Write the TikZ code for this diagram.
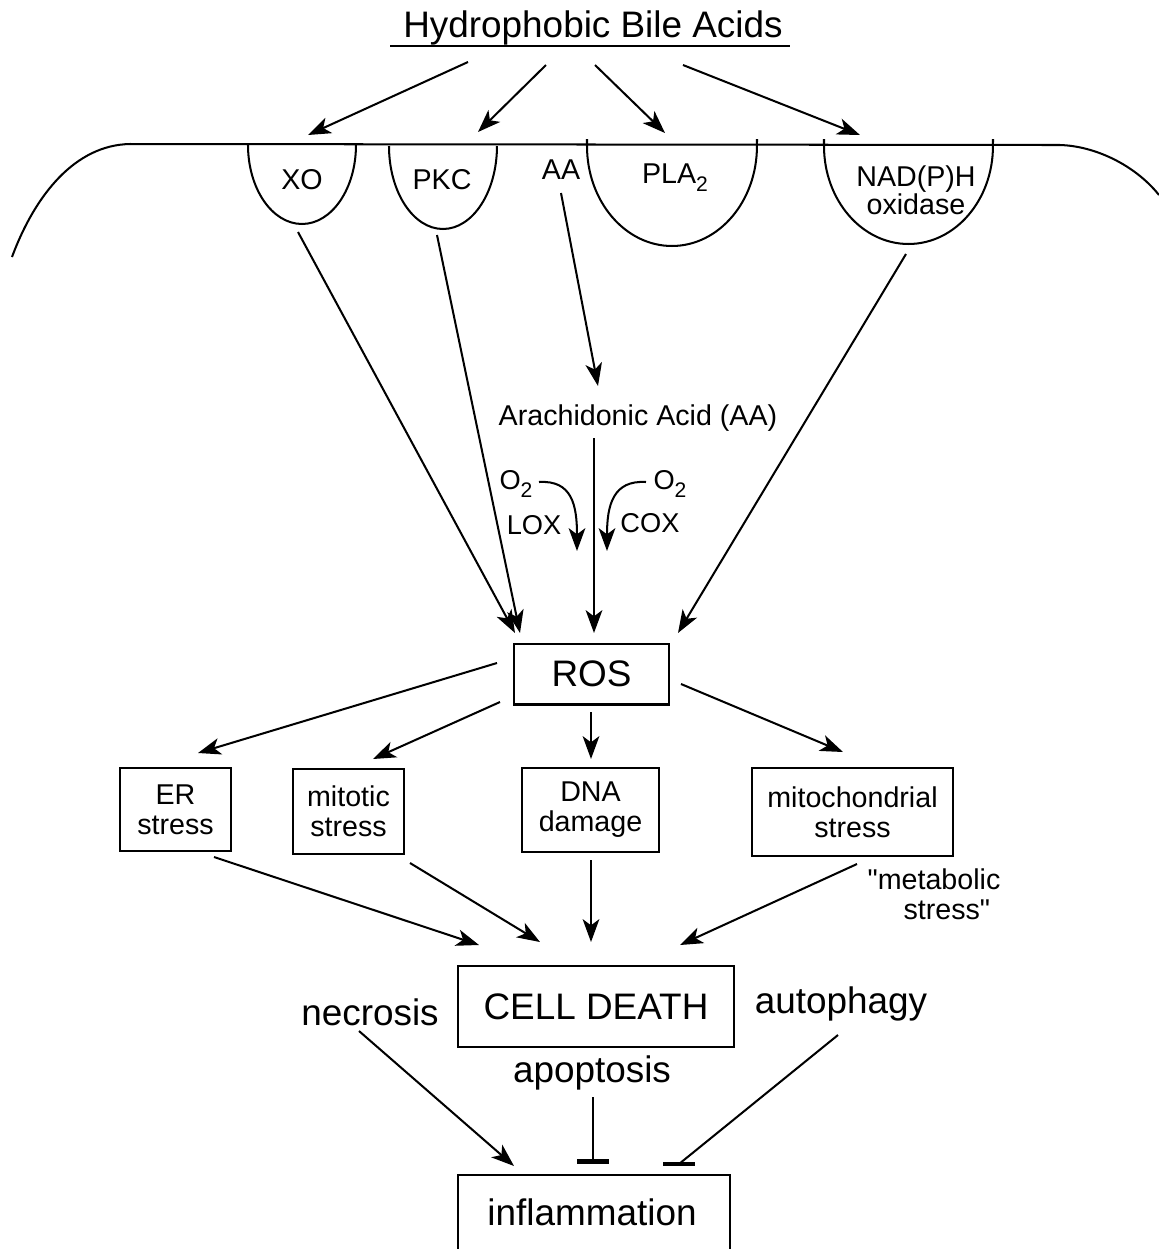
\documentclass[tikz,border=0pt]{standalone}
\usepackage{fontspec}
\setmainfont{Liberation Sans}
\usetikzlibrary{arrows.meta}
\newcommand{\sq}{\XeTeXglyph\XeTeXcharglyph"22\relax}
\newcommand{\subtwo}{\raisebox{-4.5pt}{\fontsize{12}{12}\selectfont 2}}
\begin{document}
\begin{tikzpicture}[x=0.02cm,y=-0.02cm,
  line width=1.15pt, line cap=butt,
  arr/.style={-{Stealth[length=13pt,width=9.5pt,inset=3.5pt]}},
  inh/.style={-{Bar[width=18pt,line width=2.6pt]}},
  box/.style={draw, line width=1.15pt, inner sep=0pt, align=center},
  big/.style={font=\fontsize{21}{24}\selectfont, inner sep=0pt},
  small/.style={font=\fontsize{16.3}{17}\selectfont, inner sep=0pt, align=center},
  tiny/.style={font=\fontsize{15.5}{17}\selectfont, inner sep=0pt},
]
\useasboundingbox (0,0) rectangle (1159,1249);

% title
\node[big] (title) at (593,28) {Hydrophobic Bile Acids};
\coordinate (ul1) at (390,46);
\coordinate (ul2) at (790,46);
\draw (ul1) -- (ul2);

% membrane
\draw (12,257) .. controls (35,195) and (75,145) .. (130,144) -- (1060,145)
      .. controls (1095,146) and (1135,165) .. (1159,195);

% membrane proteins
\draw (248,145) arc[start angle=180, end angle=360, x radius=1.08cm, y radius=1.58cm];
\draw (389,146) arc[start angle=180, end angle=360, x radius=1.08cm, y radius=1.66cm];
\draw (587,139) -- (587,146) arc[start angle=180, end angle=360, x radius=1.70cm, y radius=2.0cm] -- (757,139);
\draw (824,139) -- (824,146) arc[start angle=180, end angle=360, x radius=1.69cm, y radius=1.96cm] -- (993,139);

\node[small] (xo) at (302,180) {XO};
\node[small] (pkc) at (442,180) {PKC};
\node[small] (aa) at (561,170) {AA};
\node[small] (pla) at (675,178) {PLA\subtwo};
\node[small, font=\fontsize{16.3}{16}\selectfont] (nad) at (916,190) {NAD(P)H\\oxidase};

% arrows from bile acids
\coordinate (t1) at (468,62);  \coordinate (h1) at (308,135);
\coordinate (t2) at (546,65);  \coordinate (h2) at (478,132);
\coordinate (t3) at (595,65);  \coordinate (h3) at (665,133);
\coordinate (t4) at (683,65);  \coordinate (h4) at (860,135);
\draw[arr] (t1) -- (h1);
\draw[arr] (t2) -- (h2);
\draw[arr] (t3) -- (h3);
\draw[arr] (t4) -- (h4);

% arachidonic acid
\node[small] (ara) at (638,418) {Arachidonic Acid (AA)};
\coordinate (aas) at (561,193);
\coordinate (aae) at (598,386);
\draw[arr] (aas) -- (aae);

% ROS
\node[box, big, minimum width=3.1cm, minimum height=1.22cm] (ros) at (591.5,674) {ROS};

\coordinate (xos) at (298,232);  \coordinate (xoe) at (515,633);
\coordinate (pks) at (437,235);  \coordinate (pke) at (520,633);
\coordinate (ars) at (594,438);  \coordinate (are) at (594,633);
\coordinate (nas) at (906,254);  \coordinate (nae) at (678,633);
\draw[arr] (xos) -- (xoe);
\draw[arr] (pks) -- (pke);
\draw[arr] (ars) -- (are);
\draw[arr] (nas) -- (nae);

% LOX / COX
\node[tiny] (o2l) at (516,484) {O\subtwo};
\node[tiny] (lox) at (534,525) {LOX};
\node[tiny] (o2r) at (670,484) {O\subtwo};
\node[tiny] (cox) at (650,523) {COX};
\coordinate (ls) at (539,482); \coordinate (le) at (577,551);
\coordinate (rs) at (646,482); \coordinate (re) at (607,551);
\draw[arr] (ls) .. controls (572,480) and (577,505) .. (le);
\draw[arr] (rs) .. controls (613,480) and (607,505) .. (re);

% stress boxes
\node[box, small, minimum width=2.22cm, minimum height=1.66cm] (er) at (175.5,809.5) {ER\\stress};
\node[box, small, minimum width=2.22cm, minimum height=1.70cm] (mit) at (348.5,811.5) {mitotic\\stress};
\node[box, small, minimum width=2.74cm, minimum height=1.68cm] (dna) at (590.5,810) {DNA\\damage};
\node[box, small, minimum width=4.02cm, minimum height=1.76cm] (mch) at (852.5,812) {mitochondrial\\stress};
\node[small, align=center] (meta) at (934,894) {\sq metabolic\\\hspace*{0.9em}stress\sq};

\coordinate (r1s) at (497,663); \coordinate (r1e) at (198,753);
\coordinate (r2s) at (500,702); \coordinate (r2e) at (373,759);
\coordinate (r3s) at (591,712); \coordinate (r3e) at (591,759);
\coordinate (r4s) at (681,684); \coordinate (r4e) at (843,752);
\draw[arr] (r1s) -- (r1e);
\draw[arr] (r2s) -- (r2e);
\draw[arr] (r3s) -- (r3e);
\draw[arr] (r4s) -- (r4e);

% cell death
\node[box, big, minimum width=5.52cm, minimum height=1.62cm] (cd) at (596,1006.5) {CELL DEATH};
\coordinate (c1s) at (214,857); \coordinate (c1e) at (479,945);
\coordinate (c2s) at (410,863); \coordinate (c2e) at (540,942);
\coordinate (c3s) at (591,860); \coordinate (c3e) at (591,942);
\coordinate (c4s) at (857,864); \coordinate (c4e) at (680,945);
\draw[arr] (c1s) -- (c1e);
\draw[arr] (c2s) -- (c2e);
\draw[arr] (c3s) -- (c3e);
\draw[arr] (c4s) -- (c4e);

\node[big] (nec) at (370,1012) {necrosis};
\node[big] (aut) at (841,1004) {autophagy};
\node[big] (apo) at (592,1073) {apoptosis};

% inflammation (box runs off the bottom)
\node[big] (inf) at (592,1212) {inflammation};
\draw (458,1249) -- (458,1175) -- (730,1175) -- (730,1249);

\coordinate (n1) at (359,1031); \coordinate (n2) at (514,1166);
\coordinate (p1) at (593,1097); \coordinate (p2) at (593,1164);
\coordinate (a1) at (838,1035); \coordinate (a2) at (679,1164);
\coordinate (b1) at (663,1164); \coordinate (b2) at (695,1164);
\draw[arr] (n1) -- (n2);
\draw[inh] (p1) -- (p2);
\draw (a1) -- (a2);
\draw[line width=2.6pt] (b1) -- (b2);
\end{tikzpicture}
\end{document}
